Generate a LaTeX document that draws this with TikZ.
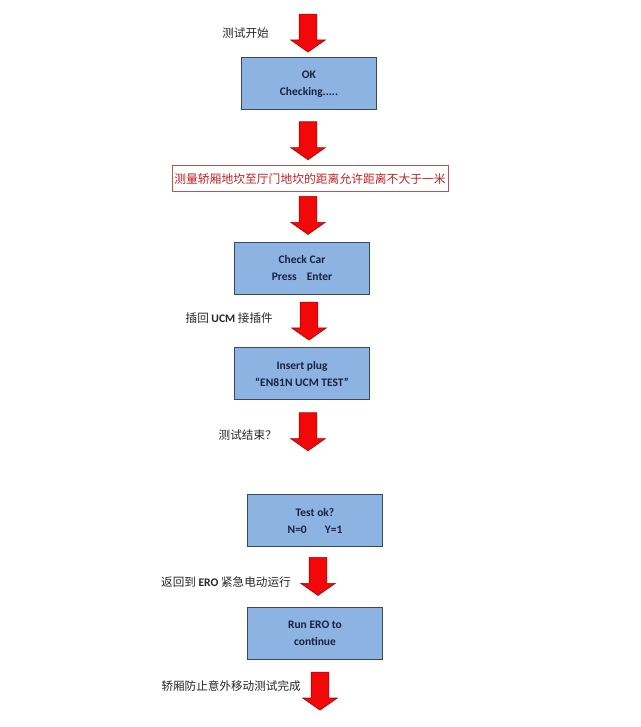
\documentclass[tikz,border=0pt]{standalone}
\usepackage{fontspec}
\setmainfont{Carlito}
\newfontfamily\cjk{Noto Sans CJK SC}
\usetikzlibrary{positioning, shapes.arrows}
\definecolor{screenblue}{RGB}{141,179,226}
\definecolor{screenedge}{RGB}{58,72,94}
\definecolor{navytext}{RGB}{24,34,66}
\definecolor{warnred}{RGB}{196,30,36}
\definecolor{warnedge}{RGB}{184,84,80}
\definecolor{arrowred}{RGB}{242,8,8}
\definecolor{arrowedge}{RGB}{176,0,0}
\newcommand{\engword}[1]{{\rmfamily\bfseries #1}}

\begin{document}
\begin{tikzpicture}[
        x=1pt, y=-1pt,
        screen/.style={rectangle, draw=screenedge, fill=screenblue, line width=1pt, minimum width=135pt, minimum height=52pt, align=center, text=navytext, font=\fontsize{11.5}{17}\selectfont\bfseries},
        warnbox/.style={rectangle, draw=warnedge, fill=white, line width=1pt, minimum width=276pt, minimum height=26pt, inner sep=0pt, text=warnred, font=\fontsize{11.8}{14}\selectfont\cjk},
        bigarrow/.style={single arrow, draw=arrowedge, fill=arrowred, line width=0.6pt, minimum height=38pt, minimum width=34pt, inner sep=8.5pt, single arrow head extend=8.5pt, single arrow tip angle=110, shape border rotate=270},
        note/.style={inner sep=0pt, text=black!85, font=\fontsize{11.6}{13}\selectfont\cjk}
    ]
        \useasboundingbox[fill=white] (0,0) rectangle (640,727);

        \node[bigarrow] (a1) at (308,30) {};
        \node[screen, below=5pt of a1, xshift=1pt] (ok) {OK\\Checking.....};
        \node[bigarrow, below=11pt of ok, xshift=-1pt] (a2) {};
        \node[warnbox, below=5pt of a2, xshift=2pt] (dist) {测量轿厢地坎至厅门地坎的距离允许距离不大于一米};
        \node[bigarrow, below=4pt of dist, xshift=-2pt] (a3) {};
        \node[screen, below=7pt of a3, xshift=-6pt] (car) {Check Car\\Press\hspace{10pt}Enter};
        \node[bigarrow, below=7pt of car, xshift=7pt] (a4) {};
        \node[screen, below=7pt of a4, xshift=-7pt] (plug) {Insert plug\\“EN81N UCM TEST”};
        \node[bigarrow, below=12pt of plug, xshift=6pt] (a5) {};
        \node[screen, below=43pt of a5, xshift=7pt] (test) {Test ok?\\N=0\hspace{18pt}Y=1};
        \node[bigarrow, below=10pt of test, xshift=3pt] (a6) {};
        \node[screen, below=11pt of a6, xshift=-3pt] (ero) {Run ERO to\\continue};
        \node[bigarrow, below=12pt of ero, xshift=5pt] (a7) {};

        \node[note, left=30pt of a1, yshift=-3pt] (t1) {测试开始};
        \node[note, left=27pt of a4] (t4) {插回 \engword{UCM} 接插件};
        \node[note, left=22pt of a5, yshift=-6pt] (t5) {测试结束？};
        \node[note, left=18pt of a6, yshift=-9pt] (t6) {返回到 \engword{ERO} 紧急电动运行};
        \node[note, left=10pt of a7, yshift=2pt] (t7) {轿厢防止意外移动测试完成};
    \end{tikzpicture}
\end{document}
